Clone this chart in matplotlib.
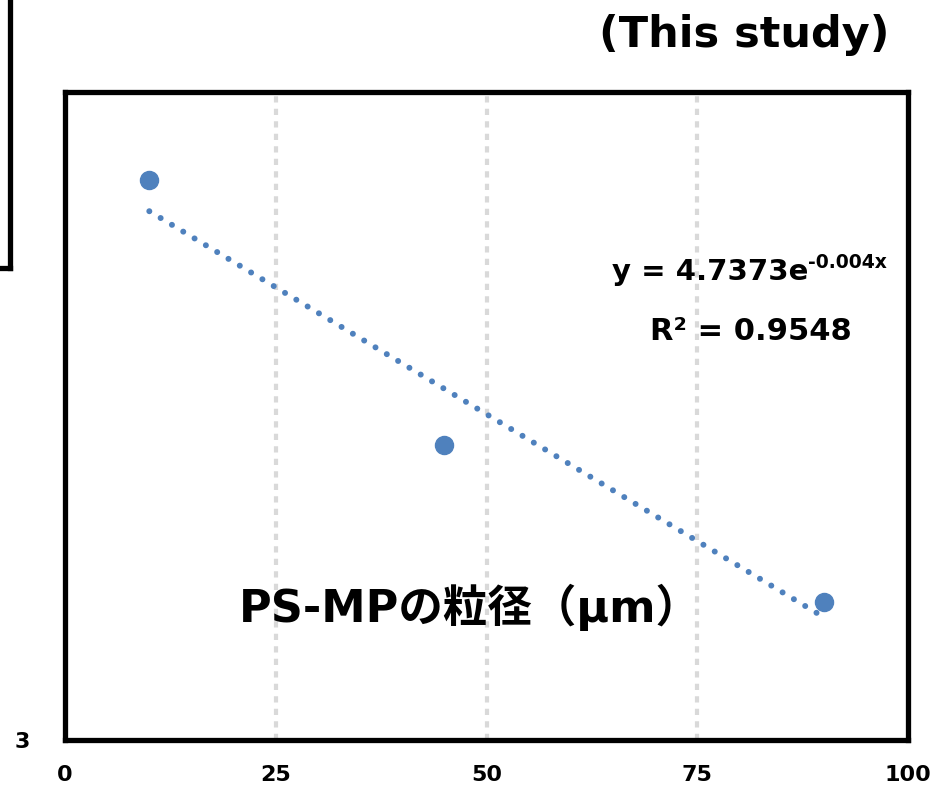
import matplotlib
matplotlib.use("Agg")
import matplotlib.pyplot as plt
import numpy as np
from matplotlib.lines import Line2D

plt.rcParams['font.family'] = ['DejaVu Sans', 'Noto Sans CJK JP']

# Data
particle_size = [10, 45, 90]
values = [4.665, 3.785, 3.345]
trend_a = 4.7373
trend_b = -0.004
trend_range = [10, 90]
x_ticks = [0, 25, 50, 75, 100]
y_ticks = [3]
eq_main = 'y = 4.7373e'
eq_sup = '-0.004x'
r2_text = 'R² = 0.9548'
xlabel_text = 'PS-MPの粒径（μm）'
title_text = '(This study)'

blue = '#4F81BD'

fig = plt.figure(figsize=(9.52, 7.9), dpi=100)
ax = fig.add_axes([65/952, 1-740/790, (908-65)/952, (740-92)/790])

ax.set_yscale('log')
ax.set_xlim(0, 100)
ax.set_ylim(3, 5)

# grid
for xv in x_ticks[1:-1]:
    ax.axvline(xv, color='#d9d9d9', lw=3, linestyle=(0, (1.5, 1.5)), zorder=1)

# trendline
tx = np.linspace(trend_range[0], trend_range[1], 200)
ty = trend_a * np.exp(trend_b * tx)
ax.plot(tx, ty, color=blue, lw=4.3, linestyle=(0, (0.01, 2.2)),
        dash_capstyle='round', zorder=2)

ax.plot(particle_size, values, 'o', color=blue, markersize=13, zorder=3)

for s in ax.spines.values():
    s.set_linewidth(3.8)
    s.set_color('black')

ax.set_xticks(x_ticks)
ax.set_xticklabels([str(v) for v in x_ticks], fontsize=16, fontweight='bold')
ax.set_yticks(y_ticks)
ax.set_yticklabels([str(v) for v in y_ticks], fontsize=16, fontweight='bold')
ax.yaxis.set_minor_locator(matplotlib.ticker.NullLocator())
ax.tick_params(axis='x', length=0, pad=18)
ax.tick_params(axis='y', length=0, pad=25)

fig.text(744/952, 1-35/790, title_text, fontsize=31, fontweight='bold',
         ha='center', va='center')
fig.text(808/952, 1-272/790, eq_main, fontsize=21, fontweight='bold',
         ha='right', va='center')
fig.text(808/952, 1-262/790, eq_sup, fontsize=13.5, fontweight='bold',
         ha='left', va='center')
fig.text(751/952, 1-331/790, r2_text, fontsize=22, fontweight='bold',
         ha='center', va='center')
fig.text(470/952, 1-607/790, xlabel_text, fontsize=32, fontweight='bold',
         ha='center', va='center')

# partial frame of neighbouring box at top-left
fig.add_artist(Line2D([10/952, 10/952], [1.0, 1-268/790], color='black', lw=3.8,
                      transform=fig.transFigure, solid_joinstyle='miter'))
fig.add_artist(Line2D([0, 10/952], [1-268/790, 1-268/790], color='black', lw=3.8,
                      transform=fig.transFigure))

fig.savefig('out.png', dpi=100, facecolor='white')
